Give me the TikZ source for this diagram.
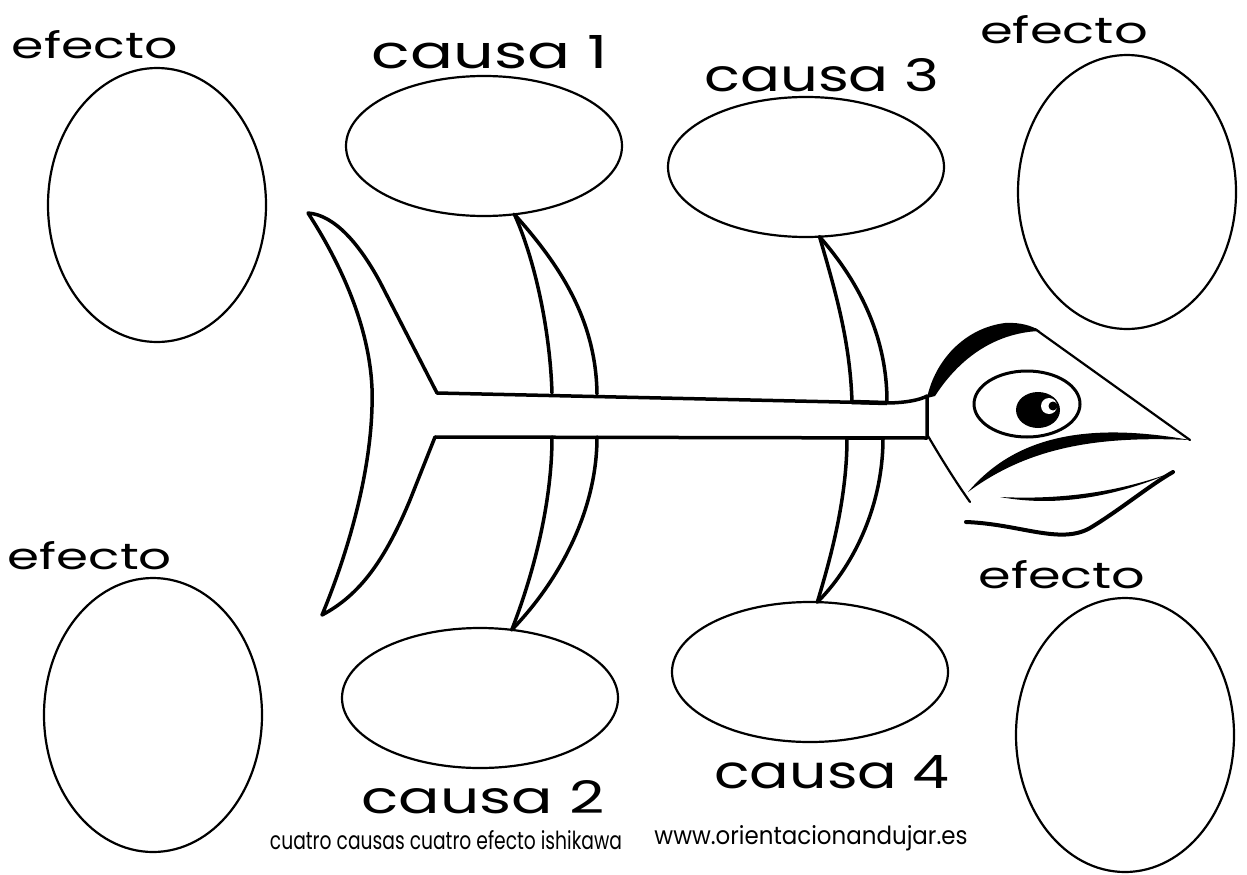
\documentclass[tikz,border=0pt]{standalone}
\usepackage{fontspec}
\setmainfont{Poppins}
\usepackage{graphicx}
\usetikzlibrary{shapes.geometric}
% text squeezed into a box of given width and height
\newcommand{\fitbox}[3]{\resizebox{#1}{#2}{#3}}
\begin{document}
\begin{tikzpicture}[x=1pt,y=-1pt,
  bubble/.style={ellipse, draw, line width=2.2pt, inner sep=0pt, outer sep=0pt},
  effect/.style={bubble, minimum width=218pt, minimum height=274pt},
  cause/.style={bubble, minimum width=276pt, minimum height=140pt},
  tag/.style={inner sep=0pt, anchor=center},
  bone/.style={line width=3.5pt, line join=round, line cap=round},
  thin/.style={line width=2.2pt, line cap=round},
]
\useasboundingbox (0,0) rectangle (1247,875);
\fill[white] (0,0) rectangle (1247,875);

% effect bubbles
\node[effect] (e1) at (157,205) {};
\node[effect] (e2) at (1127,192) {};
\node[effect] (e3) at (153,715) {};
\node[effect] (e4) at (1125,735) {};
% cause bubbles
\node[cause] (c1) at (484,146) {};
\node[cause] (c3) at (806,167) {};
\node[cause] (c2) at (480,698) {};
\node[cause] (c4) at (810,672) {};

% labels
\node[tag] (te1) at (95,45)   {\fitbox{166pt}{28pt}{efecto}};
\node[tag] (te2) at (1064,30) {\fitbox{168pt}{28pt}{efecto}};
\node[tag] (te3) at (90,556)  {\fitbox{164pt}{28pt}{efecto}};
\node[tag] (te4) at (1062,575){\fitbox{167pt}{28pt}{efecto}};
\node[tag] (tc1) at (490,52)  {\fitbox{236pt}{33pt}{causa 1}};
\node[tag] (tc3) at (822,75)  {\fitbox{235pt}{33pt}{causa 3}};
\node[tag] (tc2) at (483,797) {\fitbox{243pt}{33pt}{causa 2}};
\node[tag] (tc4) at (832,772) {\fitbox{235pt}{33pt}{causa 4}};
\node[tag] (foot1) at (446,840) {\fitbox{352pt}{19pt}{cuatro causas cuatro efecto ishikawa}};
\node[tag] (foot2) at (811,838) {\fitbox{313pt}{19pt}{www.orientacionandujar.es}};

% tail fin
\draw[bone] (437,393) -- (380,282)
  .. controls (360,245) and (335,215) .. (308,213)
  .. controls (345,270) and (375,340) .. (372,407)
  .. controls (370,480) and (345,560) .. (322,615)
  .. controls (360,595) and (385,560) .. (410,500) -- (435,437);

% backbone
\draw[bone] (437,393) -- (885,403)
  .. controls (905,403) and (920,400) .. (927,396) -- (927,438) -- (435,437);

% first pair of ribs
\draw[bone] (c1.-66) .. controls (535,260) and (550,330) .. (552,393);
\draw[bone] (c1.-66) .. controls (560,265) and (596,320) .. (597,394);
\draw[bone] (552,437) .. controls (552,500) and (535,570) .. (c2.65);
\draw[bone] (597,437) .. controls (597,510) and (560,580) .. (c2.65);
% second pair of ribs
\draw[bone] (c3.-79) .. controls (835,290) and (850,340) .. (852,402);
\draw[bone] (c3.-79) .. controls (862,285) and (887,340) .. (887,402);
\draw[bone] (847,438) .. controls (847,500) and (830,560) .. (c4.84);
\draw[bone] (883,438) .. controls (883,510) and (850,570) .. (c4.84);
\draw[line width=4.5pt] (852,402) -- (887,403);
\draw[line width=4.5pt] (847,438) -- (883,438);

% head: top of the skull (heavy stroke tapering to the right)
\fill (927,398) .. controls (935,360) and (965,328) .. (1005,323)
  .. controls (1020,322) and (1033,326) .. (1040,331)
  .. controls (1010,332) and (968,345) .. (935,396) -- cycle;
\fill (950,352) -- (966,347) -- (956,358) -- cycle;
\draw[thin] (1035,329) -- (1190,440);
% upper lip
\fill (1190,440) .. controls (1100,424) and (1020,430) .. (968,492)
  .. controls (1030,446) and (1100,436) .. (1190,440) -- cycle;
% cheek line
\draw[thin] (928,436) .. controls (945,465) and (958,485) .. (970,502);
% lower jaw
\fill (1173,472) .. controls (1120,495) and (1060,508) .. (1000,497)
  .. controls (1060,500) and (1120,492) .. (1173,472) -- cycle;
\draw[line width=4pt, line cap=round] (966,522) .. controls (1020,524) and (1060,545) .. (1090,528)
  .. controls (1120,510) and (1150,485) .. (1173,472);
% eye
\draw[line width=3pt] (1027,404) ellipse [x radius=53, y radius=33];
\fill (1038,410) ellipse [x radius=22, y radius=18];
\fill[white] (1049,406) circle [radius=8];
\fill (1053,406) circle [radius=4.5];
\end{tikzpicture}
\end{document}
